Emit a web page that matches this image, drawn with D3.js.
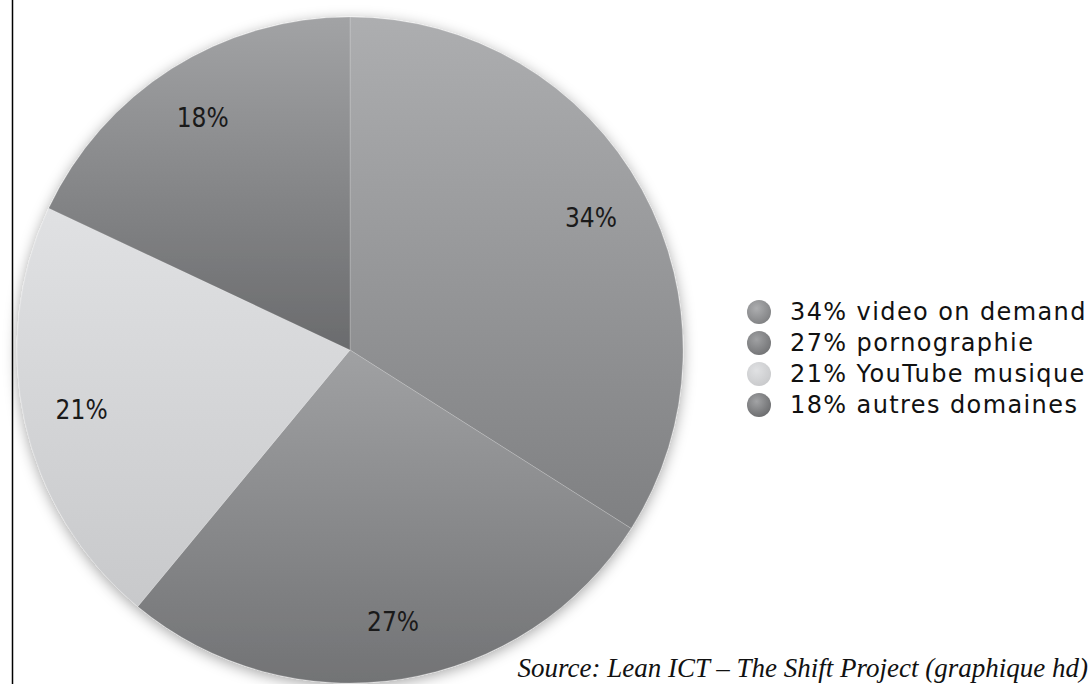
<!DOCTYPE html>
<html><head><meta charset="utf-8">
<script src="https://cdn.jsdelivr.net/npm/d3@7"></script>
<style>html,body{margin:0;padding:0;background:#fff;}svg{display:block;}</style>
</head><body>
<svg id="chart" width="1092" height="684"></svg>
<script>
const categories = ["video on demand", "pornographie", "YouTube musique", "autres domaines"];
const values = [34, 27, 21, 18];
const topColors = ["#adaeb0", "#a0a1a3", "#e0e1e3", "#a2a3a5"];
const bottomColors = ["#7f8082", "#727375", "#c8c9cb", "#6a6b6d"];
const sourceText = "Source: Lean ICT – The Shift Project (graphique hd)";

const svg = d3.select("#chart");
const W = 1092, H = 684;
const cx = 350, cy = 350, R = 333;

const defs = svg.append("defs");
const shadow = defs.append("filter").attr("id", "shadow")
  .attr("x", "-20%").attr("y", "-20%").attr("width", "140%").attr("height", "140%");
shadow.append("feDropShadow").attr("dx", 0).attr("dy", 3).attr("stdDeviation", 7)
  .attr("flood-color", "#000").attr("flood-opacity", 0.35);

categories.forEach((c, i) => {
  const g = defs.append("linearGradient").attr("id", "grad" + i)
    .attr("x1", 0).attr("y1", 0).attr("x2", 0).attr("y2", 1);
  g.append("stop").attr("offset", "0%").attr("stop-color", topColors[i]);
  g.append("stop").attr("offset", "100%").attr("stop-color", bottomColors[i]);
  const rg = defs.append("radialGradient").attr("id", "lgrad" + i)
    .attr("cx", "40%").attr("cy", "35%").attr("r", "70%");
  rg.append("stop").attr("offset", "0%").attr("stop-color", topColors[i]);
  rg.append("stop").attr("offset", "100%").attr("stop-color", bottomColors[i]);
});

// left border
svg.append("line").attr("x1", 12.5).attr("x2", 12.5).attr("y1", 0).attr("y2", H)
  .attr("stroke", "#000").attr("stroke-width", 1.5);

const pie = d3.pie().sort(null).value(d => d)(values);
const arc = d3.arc().innerRadius(0).outerRadius(R);
const labelArc = d3.arc().innerRadius(275).outerRadius(275);

const g = svg.append("g").attr("transform", `translate(${cx},${cy})`);
g.append("g").attr("filter", "url(#shadow)")
  .selectAll("path").data(pie).join("path")
  .attr("d", arc)
  .attr("fill", (d, i) => `url(#grad${i})`)
  .attr("stroke", "rgba(255,255,255,0.18)")
  .attr("stroke-width", 1);

g.selectAll("text.lbl").data(pie).join("text")
  .attr("class", "lbl")
  .attr("transform", d => `translate(${labelArc.centroid(d)})`)
  .attr("text-anchor", "middle")
  .attr("dominant-baseline", "central")
  .attr("font-family", "'DejaVu Sans Condensed', 'DejaVu Sans', sans-serif")
  .attr("font-stretch", "condensed")
  .attr("font-size", 26)
  .attr("fill", "#1a1a1a")
  .text(d => d.value + "%");

// legend
const leg = svg.append("g");
const rowY = d3.scalePoint().domain(categories).range([320, 413]);
const lrow = leg.selectAll("g").data(categories).join("g")
  .attr("transform", c => `translate(0,${rowY(c)})`);
lrow.append("circle").attr("cx", 759).attr("cy", -8).attr("r", 12)
  .attr("fill", (c, i) => `url(#lgrad${i})`);
lrow.append("text").attr("x", 790).attr("y", 0)
  .attr("font-family", "'DejaVu Sans', sans-serif")
  .attr("font-size", 24).attr("letter-spacing", 1.4).attr("fill", "#111")
  .text((c, i) => values[i] + "% " + c);

svg.append("text").attr("x", 1088).attr("y", 677)
  .attr("text-anchor", "end")
  .attr("font-family", "'Liberation Serif', 'Times New Roman', serif")
  .attr("font-style", "italic").attr("font-size", 27).attr("fill", "#111")
  .text(sourceText);
</script>
</body></html>
